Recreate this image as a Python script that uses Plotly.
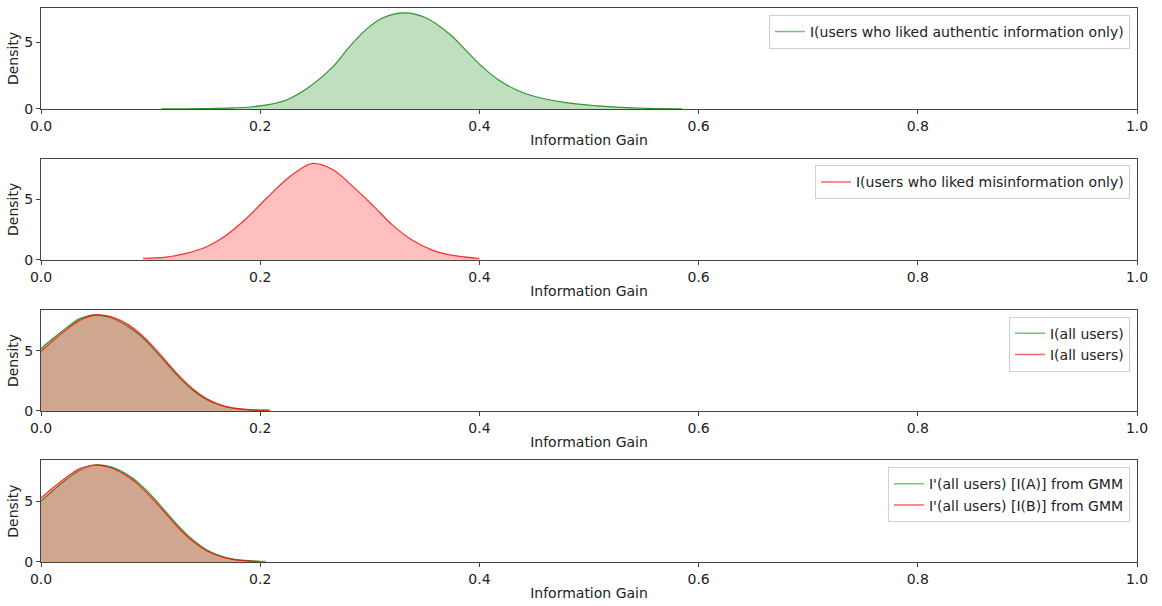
import plotly.graph_objects as go

# Information-gain density curves, one panel per group
x_auth = [0.110, 0.145, 0.175, 0.200, 0.224, 0.245, 0.266, 0.281, 0.297, 0.312, 0.332,
          0.351, 0.373, 0.388, 0.403, 0.418, 0.433, 0.449, 0.479, 0.509, 0.540, 0.585]
d_auth = [0.00, 0.02, 0.07, 0.22, 0.67, 1.66, 3.14, 4.63, 6.00, 6.86, 7.23,
          6.86, 5.62, 4.38, 3.14, 2.15, 1.46, 0.97, 0.47, 0.22, 0.07, 0.00]

x_mis = [0.093, 0.114, 0.1325, 0.151, 0.169, 0.187, 0.205, 0.224, 0.236, 0.248, 0.266,
         0.284, 0.303, 0.321, 0.339, 0.357, 0.373, 0.400]
d_mis = [0.14, 0.24, 0.54, 1.08, 2.03, 3.38, 5.00, 6.62, 7.43, 7.92, 7.43,
         6.08, 4.46, 2.84, 1.62, 0.81, 0.41, 0.12]

x_all_a = [0.000, 0.011, 0.023, 0.035, 0.049, 0.063, 0.078, 0.090, 0.102, 0.114, 0.126,
           0.139, 0.151, 0.163, 0.175, 0.193, 0.207]
d_all_a = [5.17, 6.03, 6.90, 7.65, 7.98, 7.76, 7.10, 6.30, 5.22, 4.00, 2.79,
           1.70, 0.95, 0.49, 0.22, 0.08, 0.05]
x_all_b = [0.000, 0.011, 0.023, 0.035, 0.049, 0.063, 0.078, 0.090, 0.102, 0.114, 0.126,
           0.139, 0.151, 0.163, 0.175, 0.193, 0.209]
d_all_b = [4.95, 5.85, 6.75, 7.50, 7.96, 7.85, 7.25, 6.45, 5.38, 4.15, 2.93,
           1.80, 1.02, 0.53, 0.25, 0.09, 0.06]

x_gmm_a = [0.000, 0.011, 0.023, 0.035, 0.049, 0.063, 0.078, 0.090, 0.102, 0.114, 0.126,
           0.139, 0.151, 0.163, 0.175, 0.193, 0.205]
d_gmm_a = [5.00, 5.88, 6.78, 7.52, 7.97, 7.84, 7.22, 6.42, 5.35, 4.12, 2.90,
           1.78, 1.00, 0.52, 0.24, 0.09, 0.06]
x_gmm_b = [0.000, 0.011, 0.023, 0.035, 0.049, 0.063, 0.078, 0.090, 0.102, 0.114, 0.126,
           0.139, 0.151, 0.163, 0.175, 0.190, 0.199]
d_gmm_b = [5.25, 6.10, 6.95, 7.65, 7.97, 7.76, 7.08, 6.25, 5.17, 3.95, 2.75,
           1.66, 0.92, 0.47, 0.21, 0.08, 0.05]

x_ticks = [0.0, 0.2, 0.4, 0.6, 0.8, 1.0]
x_tick_text = ["0.0", "0.2", "0.4", "0.6", "0.8", "1.0"]
y_ticks = [0, 5]
y_tops = [7.59, 8.31, 8.38, 8.37]

GREEN_LINE = "rgba(0,128,0,0.8)"
RED_LINE = "rgba(255,0,0,0.8)"
GREEN_KEY = "rgba(0,128,0,0.5)"
RED_KEY = "rgba(255,0,0,0.6)"
GREEN_FILL = "rgba(0,128,0,0.25)"
RED_FILL = "rgba(255,0,0,0.25)"
FONT = "DejaVu Sans"
FS = 14

panels = [
    [(x_auth, d_auth, "I(users who liked authentic information only)", GREEN_LINE, GREEN_FILL, GREEN_KEY)],
    [(x_mis, d_mis, "I(users who liked misinformation only)", RED_LINE, RED_FILL, RED_KEY)],
    [(x_all_a, d_all_a, "I(all users)", GREEN_LINE, GREEN_FILL, GREEN_KEY),
     (x_all_b, d_all_b, "I(all users)", RED_LINE, RED_FILL, RED_KEY)],
    [(x_gmm_a, d_gmm_a, "I'(all users) [I(A)] from GMM", GREEN_LINE, GREEN_FILL, GREEN_KEY),
     (x_gmm_b, d_gmm_b, "I'(all users) [I(B)] from GMM", RED_LINE, RED_FILL, RED_KEY)],
]

# panel vertical extents in paper coordinates (bottom, top)
domains = [(0.8179, 1.0), (0.5452, 0.728), (0.2727, 0.4548), (0.0, 0.1839)]
legend_y = [0.9875, 0.716, 0.443, 0.171]

fig = go.Figure()
layout = {}
for i, traces in enumerate(panels):
    n = "" if i == 0 else str(i + 1)
    leg = "legend" if i == 0 else f"legend{i + 1}"
    for xs, ys, name, lc, fc, kc in traces:
        # shaded area with its outline
        fig.add_trace(go.Scatter(
            x=xs, y=ys, name=name, mode="lines", showlegend=False,
            line=dict(color=lc, width=1.2, shape="spline", smoothing=1.0),
            fill="tozeroy", fillcolor=fc,
            xaxis="x" + n, yaxis="y" + n, hoverinfo="skip",
        ))
        # line-only key for the legend
        fig.add_trace(go.Scatter(
            x=[None], y=[None], name=name, mode="lines",
            line=dict(color=kc, width=1.5),
            xaxis="x" + n, yaxis="y" + n, legend=leg,
        ))
    axis_common = dict(
        showline=True, linecolor="#444", linewidth=1, mirror=True,
        showgrid=False, zeroline=False,
        ticks="outside", ticklen=4, tickcolor="#444", tickwidth=1,
        tickfont=dict(family=FONT, size=FS, color="#222"),
    )
    layout["xaxis" + n] = dict(
        axis_common, domain=[0, 1], range=[0, 1], anchor="y" + n,
        tickvals=x_ticks, ticktext=x_tick_text,
        title=dict(text="Information Gain", font=dict(family=FONT, size=FS, color="#222"),
                   standoff=2),
    )
    layout["yaxis" + n] = dict(
        axis_common, domain=list(domains[i]), range=[0, y_tops[i]], anchor="x" + n,
        tickvals=y_ticks, ticktext=[str(t) for t in y_ticks],
        title=dict(text="Density", font=dict(family=FONT, size=FS, color="#222"),
                   standoff=2),
    )
    layout[leg] = dict(
        x=0.9936, y=legend_y[i], xanchor="right", yanchor="top",
        bgcolor="white", bordercolor="#d0d0d0", borderwidth=1,
        font=dict(family=FONT, size=FS, color="#222"),
        itemwidth=30, tracegroupgap=0,
    )

fig.update_layout(
    **layout,
    width=1162, height=606,
    margin=dict(l=41, r=25, t=7, b=39),
    paper_bgcolor="white", plot_bgcolor="white",
    showlegend=True,
)

fig.write_html("out.html")
